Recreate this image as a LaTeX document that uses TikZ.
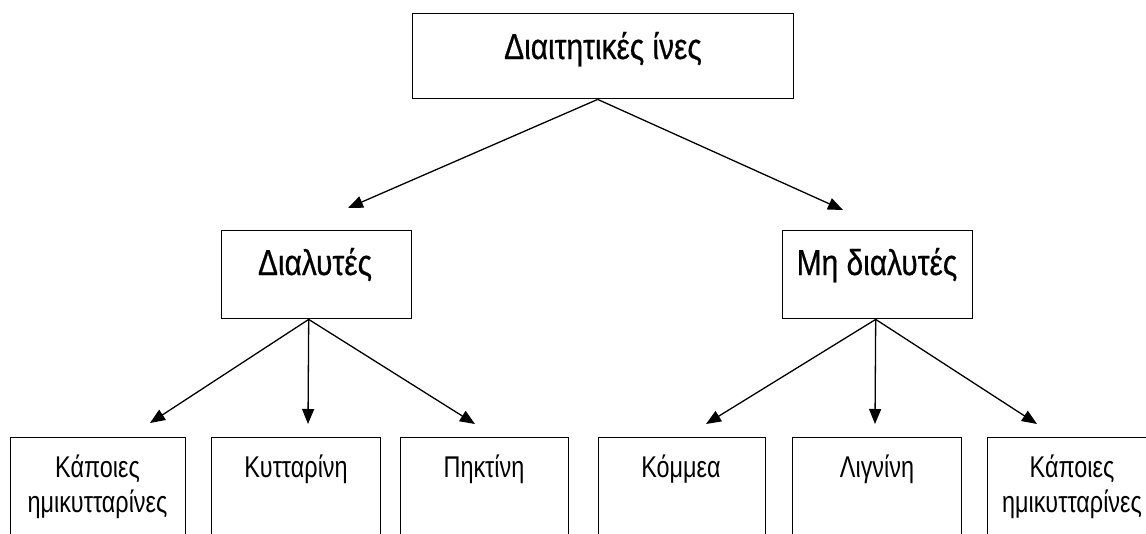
\documentclass[tikz,border=0pt]{standalone}
\usepackage{fontspec}
\setmainfont[FakeStretch=0.78]{Liberation Sans}
\newfontfamily\bigfont[FakeStretch=0.83,FakeBold=0.6]{Liberation Sans}
\usetikzlibrary{arrows.meta}
\begin{document}
\begin{tikzpicture}[x=1pt,y=-1pt,
  box/.style={draw=black, line width=1.4pt, fill=white, inner sep=0pt, anchor=north west},
  big/.style={font=\bigfont\fontsize{36}{42}\selectfont, anchor=base, inner sep=0pt},
  small/.style={font=\fontsize{30}{35}\selectfont, anchor=base, inner sep=0pt, align=center},
  arr/.style={line width=1.3pt, draw=black, -{Triangle[length=15pt,width=12pt]}}]
\useasboundingbox (0,0) rectangle (1146,533);
\clip (0,0) rectangle (1146,533);
% boxes
\node[box, minimum width=381pt, minimum height=85pt] (top) at (412,13) {};
\node[box, minimum width=190pt, minimum height=88pt] (dial) at (221,230) {};
\node[box, minimum width=190pt, minimum height=88pt] (mh) at (782,230) {};
\node[box, minimum width=175pt, minimum height=130pt] (b1) at (10,437) {};
\node[box, minimum width=169pt, minimum height=130pt] (b2) at (211,437) {};
\node[box, minimum width=168pt, minimum height=130pt] (b3) at (400,437) {};
\node[box, minimum width=167pt, minimum height=130pt] (b4) at (598,437) {};
\node[box, minimum width=169pt, minimum height=130pt] (b5) at (792,437) {};
\node[box, minimum width=170pt, minimum height=130pt] (b6) at (987,437) {};
% texts
\node[big] (ttop) at (603,59) {Διαιτητικές ίνες};
\node[big] (tdial) at (315,275) {Διαλυτές};
\node[big] (tmh) at (877,275) {Μη διαλυτές};
\node[small] (t1) at (97.5,512) {Κάποιες\\ημικυτταρίνες};
\node[small] (t2) at (296,477) {Κυτταρίνη};
\node[small] (t3) at (484,477) {Πηκτίνη};
\node[small] (t4) at (681,477) {Κόμμεα};
\node[small] (t5) at (877,477) {Λιγνίνη};
\node[small] (t6) at (1072,512) {Κάποιες\\ημικυτταρίνες};
% arrow tips
\coordinate (pA) at (348,208);
\coordinate (pB) at (843,210);
\coordinate (p1) at (150,423);
\coordinate (p2) at (308,424);
\coordinate (p3) at (475,424);
\coordinate (p4) at (706,424);
\coordinate (p5) at (875,424);
\coordinate (p6) at (1037,424);
% connectors
\draw[arr] ([xshift=-5.5pt]top.south) -- (pA);
\draw[arr] ([xshift=-5.5pt]top.south) -- (pB);
\draw[arr] ([xshift=-8pt]dial.south) -- (p1);
\draw[arr] ([xshift=-8pt]dial.south) -- (p2);
\draw[arr] ([xshift=-8pt]dial.south) -- (p3);
\draw[arr] ([xshift=-2pt]mh.south) -- (p4);
\draw[arr] ([xshift=-2pt]mh.south) -- (p5);
\draw[arr] ([xshift=-2pt]mh.south) -- (p6);
\end{tikzpicture}
\end{document}
